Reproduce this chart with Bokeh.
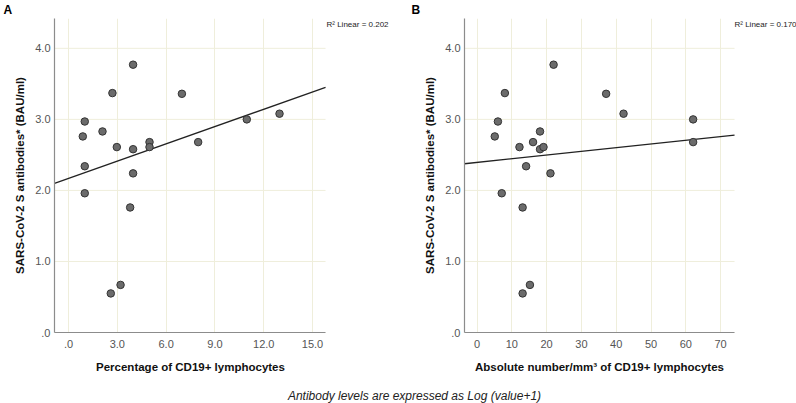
from bokeh.plotting import figure
from bokeh.layouts import column, row
from bokeh.models import Range1d, FixedTicker, Label, ColumnDataSource, Title
from bokeh.embed import file_html
from bokeh.resources import INLINE
import numpy as np

# ---- data ----
y_ticks = [0, 1, 2, 3, 4]
y_tick_labels = [".0", "1.0", "2.0", "3.0", "4.0"]

# Panel A: percentage of CD19+ lymphocytes
a_x = [0.88, 1.0, 1.0, 1.0, 2.09, 2.70, 2.97, 3.97, 3.97, 3.97, 4.98, 4.98,
       6.97, 7.97, 10.96, 12.97, 3.79, 2.60, 3.20]
a_y = [2.76, 2.97, 2.34, 1.96, 2.83, 3.37, 2.61, 3.77, 2.58, 2.24, 2.68, 2.61,
       3.36, 2.68, 3.00, 3.08, 1.76, 0.55, 0.67]
a_ticks = [0, 3, 6, 9, 12, 15]
a_tick_labels = [".0", "3.0", "6.0", "9.0", "12.0", "15.0"]
a_fit = [2.17, 0.081]          # intercept, slope of the drawn fit line
a_r2 = "R\u00b2 Linear = 0.202"

# Panel B: absolute number/mm3 of CD19+ lymphocytes
b_x = [5.1, 6.0, 8.0, 7.1, 12.2, 14.1, 16.1, 18.1, 18.1, 19.1, 21.1, 22.0,
       37.1, 42.1, 62.1, 62.1, 13.1, 13.1, 15.2]
b_y = [2.76, 2.97, 3.37, 1.96, 2.61, 2.34, 2.68, 2.83, 2.58, 2.61, 2.24, 3.77,
       3.36, 3.08, 3.00, 2.68, 1.76, 0.55, 0.67]
b_ticks = [0, 10, 20, 30, 40, 50, 60, 70]
b_tick_labels = ["0", "10", "20", "30", "40", "50", "60", "70"]
b_fit = [2.394, 0.0052]
b_r2 = "R\u00b2 Linear = 0.170"

caption = "Antibody levels are expressed as Log (value+1)"

GRID = "#efeedb"
AXIS = "#8c8c8c"
TICKC = "#555555"
FONT = "Liberation Sans"
W = 796
HH = 18       # header height (panel letters)
PH = 370      # panel figure height
BOT = 56      # bottom border
Y_MAX = 4.42


def panel(xs, ys, xr, px_per_unit, ticks, tick_labels, fit, r2, r2_x,
          xlabel, xlabel_w, width, left):
    # the frame runs to the right edge of the figure; axis and grid stop at xr[1]
    frame_w = width - left
    x_end_view = xr[0] + frame_w / px_per_unit
    axis_w = (xr[1] - xr[0]) * px_per_unit
    p = figure(width=width, height=PH, x_range=Range1d(xr[0], x_end_view),
               y_range=Range1d(0, Y_MAX),
               output_backend="svg", toolbar_location=None,
               min_border_left=left, min_border_right=0,
               min_border_top=0, min_border_bottom=BOT)
    p.outline_line_color = None
    p.background_fill_color = "white"
    p.border_fill_color = "white"

    p.xaxis.ticker = FixedTicker(ticks=ticks)
    p.xaxis.major_label_overrides = {t: l for t, l in zip(ticks, tick_labels)}
    p.xaxis.bounds = (xr[0], xr[1])
    p.yaxis.ticker = FixedTicker(ticks=y_ticks)
    p.yaxis.major_label_overrides = {t: l for t, l in zip(y_ticks, y_tick_labels)}

    for ax in (p.xaxis, p.yaxis):
        ax.axis_line_color = AXIS
        ax.axis_line_width = 1.2
        ax.major_tick_line_color = None
        ax.minor_tick_line_color = None
        ax.major_tick_out = 0
        ax.major_tick_in = 0
        ax.major_label_text_font = FONT
        ax.major_label_text_font_size = "11px"
        ax.major_label_text_color = TICKC
        ax.axis_label_text_font = FONT
        ax.axis_label_text_font_size = "11.5px"
        ax.axis_label_text_font_style = "bold"
        ax.axis_label_text_color = "#111111"
    p.xaxis.major_label_standoff = 7
    p.yaxis.major_label_standoff = 4
    p.yaxis.axis_label_standoff = 6
    p.yaxis.axis_label = "SARS-CoV-2 S antibodies* (BAU/ml)"

    # x axis title, centred under the drawn axis extent (not the whole frame)
    p.add_layout(Title(text=xlabel, align="left", offset=(axis_w - xlabel_w) / 2,
                       text_font=FONT, text_font_size="11.5px", text_font_style="bold",
                       text_color="#111111", standoff=20, vertical_align="top"), "below")

    p.xgrid.grid_line_color = GRID
    p.ygrid.visible = False
    # horizontal grid lines limited to the axis extent
    p.segment(x0=[xr[0]] * len(y_ticks), x1=[xr[1]] * len(y_ticks),
              y0=y_ticks, y1=y_ticks, line_color=GRID, line_width=1)

    lx = np.array([xr[0], xr[1]])
    ly = fit[0] + fit[1] * lx
    p.line(lx, ly, line_color="#222222", line_width=1.3)

    src = ColumnDataSource(dict(x=xs, y=ys))
    p.scatter("x", "y", source=src, size=7.5, fill_color="#6b6b6b",
              line_color="#333333", line_width=1)

    fh = PH - BOT
    p.add_layout(Label(x=r2_x, y=fh - 6, x_units="screen", y_units="screen",
                       text=r2, text_font=FONT, text_font_size="8px",
                       text_color="#222222", text_baseline="middle", text_align="left"))
    return p


WA = 409
pA = panel(a_x, a_y, (-0.86, 15.8), 16.27, a_ticks, a_tick_labels, a_fit, a_r2, 272,
           "Percentage of CD19+ lymphocytes", 188, WA, 54)
pB = panel(b_x, b_y, (-3.6, 74.0), 3.48, b_ticks, b_tick_labels, b_fit, b_r2, 270,
           "Absolute number/mm\u00b3 of CD19+ lymphocytes", 249, W - WA, 55)

# header with panel letters
hdr = figure(width=W, height=HH, x_range=Range1d(0, W), y_range=Range1d(0, HH),
             output_backend="svg", toolbar_location=None, min_border=0)
hdr.axis.visible = False
hdr.grid.visible = False
hdr.outline_line_color = None
for letter, lx in (("A", 3), ("B", 411)):
    hdr.add_layout(Label(x=lx, y=9, x_units="screen", y_units="screen", text=letter,
                         text_font=FONT, text_font_size="12px", text_font_style="bold",
                         text_color="#000000", text_baseline="middle", text_align="left"))

CH = 403 - HH - PH
pC = figure(width=W, height=CH, x_range=Range1d(0, W), y_range=Range1d(0, CH),
            output_backend="svg", toolbar_location=None, min_border=0)
pC.axis.visible = False
pC.grid.visible = False
pC.outline_line_color = None
pC.add_layout(Label(x=414, y=7.5, x_units="screen", y_units="screen", text=caption,
                    text_font=FONT, text_font_size="12px", text_font_style="italic",
                    text_color="#222222", text_align="center", text_baseline="middle"))

layout = column(hdr, row(pA, pB), pC)
open("out.html", "w").write(file_html(layout, INLINE))
